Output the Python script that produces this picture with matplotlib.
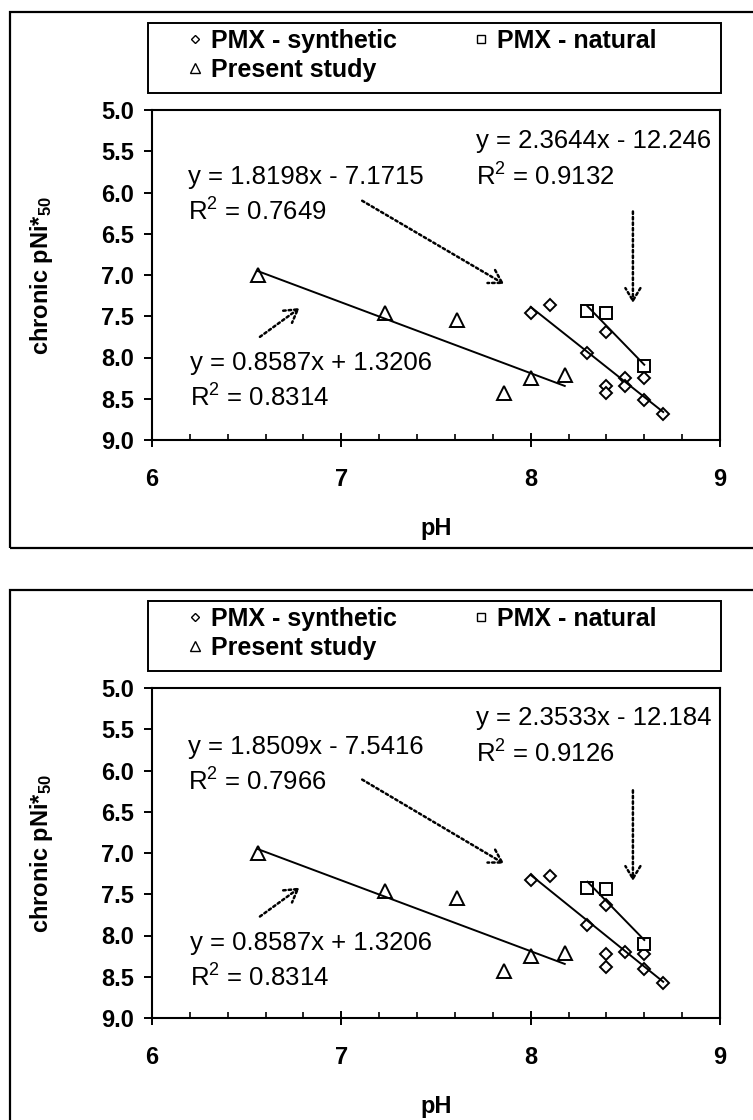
import matplotlib
matplotlib.use('Agg')
import matplotlib.pyplot as plt
from matplotlib.patches import Rectangle
from matplotlib.lines import Line2D
from matplotlib.ticker import MultipleLocator, FormatStrFormatter

plt.rcParams['font.family'] = ['Liberation Sans', 'DejaVu Sans']
plt.rcParams['mathtext.default'] = 'regular'

# Present study (same points in both panels)
ph_present = [6.56, 7.23, 7.61, 7.86, 8.0, 8.18]
pni_present = [7.0, 7.46, 7.55, 8.43, 8.25, 8.21]

# upper panel, PMX data
ph_syn_a = [8.0, 8.1, 8.3, 8.4, 8.4, 8.4, 8.5, 8.5, 8.6, 8.6, 8.7]
pni_syn_a = [7.46, 7.36, 7.94, 7.69, 8.35, 8.43, 8.25, 8.35, 8.25, 8.51, 8.68]
ph_nat_a = [8.3, 8.4, 8.6]
pni_nat_a = [7.44, 7.46, 8.10]

# lower panel, PMX data
ph_syn_b = [8.0, 8.1, 8.3, 8.4, 8.4, 8.4, 8.5, 8.6, 8.6, 8.7]
pni_syn_b = [7.33, 7.28, 7.87, 7.63, 8.23, 8.38, 8.20, 8.22, 8.40, 8.58]
ph_nat_b = [8.3, 8.4, 8.6]
pni_nat_b = [7.42, 7.44, 8.10]

# trend lines: slope, intercept, R2
fit_present = (0.8587, 1.3206, 0.8314)
fit_syn_a = (1.8198, -7.1715, 0.7649)
fit_nat_a = (2.3644, -12.246, 0.9132)
fit_syn_b = (1.8509, -7.5416, 0.7966)
fit_nat_b = (2.3533, -12.184, 0.9126)

# where the equations sit (left x, baseline y of first line, baseline y of R2 line)
eq_pos_a = {'syn': (6.19, 5.90, 6.34), 'present': (6.20, 8.15, 8.60), 'nat': (7.71, 5.46, 5.92)}
eq_pos_b = {'syn': (6.19, 5.80, 6.24), 'present': (6.20, 8.17, 8.62), 'nat': (7.71, 5.45, 5.90)}

# dotted pointer arrows (start, end)
arrows_a = [((7.11, 6.10), (7.86, 7.11)), ((6.57, 7.75), (6.78, 7.40)), ((8.54, 6.23), (8.54, 7.34))]
arrows_b = [((7.11, 6.11), (7.86, 7.13)), ((6.57, 7.77), (6.78, 7.42)), ((8.54, 6.24), (8.54, 7.34))]

labels = ['PMX - synthetic', 'PMX - natural', 'Present study']

W, H = 753, 1120
fig = plt.figure(figsize=(W / 100, H / 100), dpi=100)


def px(x, y):
    # pixel (from top-left) to figure fraction
    return x / W, 1 - y / H


def eq_text(fit):
    m, b, r2 = fit
    sign = '+' if b >= 0 else '-'
    return f'y = {m}x {sign} {abs(b)}', f'R$^2$ = {r2}'


def panel(off, ph_syn, pni_syn, ph_nat, pni_nat, fit_syn, fit_nat, eq_pos, arrows):
    # outer frame
    x0, y0 = px(10, 548 + off)
    fig.patches.append(Rectangle((x0, y0), 1.2, (548 - 12) / H, transform=fig.transFigure,
                                 fill=False, lw=1.6, ec='black'))
    # legend box
    lx, ly = px(148, 93 + off)
    fig.patches.append(Rectangle((lx, ly), (721 - 148) / W, 70 / H, transform=fig.transFigure,
                                 fill=False, lw=1.4, ec='black'))

    left, bottom = px(152, 440 + off)
    ax = fig.add_axes([left, bottom, 568 / W, 330 / H])

    ax.plot(ph_syn, pni_syn, ls='none', marker='D', ms=6.5, mfc='white', mec='black', mew=1.4)
    ax.plot(ph_nat, pni_nat, ls='none', marker='s', ms=8, mfc='white', mec='black', mew=1.4)
    ax.plot(ph_present, pni_present, ls='none', marker='^', ms=9.5, mfc='white', mec='black', mew=1.4)

    for xs, fit in [(ph_syn, fit_syn), (ph_nat, fit_nat), (ph_present, fit_present)]:
        xa, xb = min(xs), max(xs)
        ax.plot([xa, xb], [fit[0] * xa + fit[1], fit[0] * xb + fit[1]], color='black', lw=1.4)

    for key, fit in [('syn', fit_syn), ('present', fit_present), ('nat', fit_nat)]:
        tx, ty1, ty2 = eq_pos[key]
        line1, line2 = eq_text(fit)
        ax.text(tx, ty1, line1, fontsize=18.5, va='baseline', ha='left')
        ax.text(tx, ty2, line2, fontsize=18.5, va='baseline', ha='left')

    for (sx, sy), (ex, ey) in arrows:
        ax.annotate('', xy=(ex, ey), xytext=(sx, sy),
                    arrowprops=dict(arrowstyle='->,head_length=0.5,head_width=0.3', ls=(0, (1, 1.2)),
                                    lw=1.8, color='black', mutation_scale=18, shrinkA=0, shrinkB=0))

    ax.set_xlim(6, 9)
    ax.set_ylim(9, 5)
    ax.xaxis.set_major_locator(MultipleLocator(1))
    ax.xaxis.set_minor_locator(MultipleLocator(0.2))
    ax.yaxis.set_major_locator(MultipleLocator(0.5))
    ax.yaxis.set_major_formatter(FormatStrFormatter('%.1f'))
    ax.tick_params(axis='x', which='major', direction='inout', length=10, width=1.4, pad=15, labelsize=17)
    ax.tick_params(axis='x', which='minor', direction='in', length=4.5, width=1.2)
    ax.tick_params(axis='y', which='major', direction='out', length=6, width=1.4, pad=7, labelsize=17)
    for lab in ax.get_xticklabels() + ax.get_yticklabels():
        lab.set_fontweight('bold')
    for s in ax.spines.values():
        s.set_linewidth(1.5)

    ax.set_xlabel('pH', fontsize=17, fontweight='bold')
    ax.xaxis.set_label_coords(0.5, -0.233)
    ax.xaxis.label.set_va('top')
    ax.set_ylabel('chronic pNi*$_{50}$', fontsize=17, fontweight='bold')
    ax.yaxis.set_label_coords(-0.195, 0.5)
    ax.yaxis.label.set_va('center')

    handles = [Line2D([], [], ls='none', marker='D', ms=4.5, mfc='white', mec='black', mew=1),
               Line2D([], [], ls='none', marker='^', ms=6.5, mfc='white', mec='black', mew=1),
               Line2D([], [], ls='none', marker='s', ms=6, mfc='white', mec='black', mew=1)]
    lax, lay = px(186, 29 + off)
    fig.legend(handles, [labels[0], labels[2], labels[1]], loc='upper left',
               bbox_to_anchor=(lax, lay), bbox_transform=fig.transFigure, ncol=2, frameon=False,
               prop={'size': 18, 'weight': 'bold'}, handlelength=0.7, handletextpad=0.3,
               columnspacing=3.0, labelspacing=0.2, borderpad=0, borderaxespad=0)
    return ax


panel(0, ph_syn_a, pni_syn_a, ph_nat_a, pni_nat_a, fit_syn_a, fit_nat_a, eq_pos_a, arrows_a)
panel(578, ph_syn_b, pni_syn_b, ph_nat_b, pni_nat_b, fit_syn_b, fit_nat_b, eq_pos_b, arrows_b)

plt.savefig('out.png', dpi=100)
